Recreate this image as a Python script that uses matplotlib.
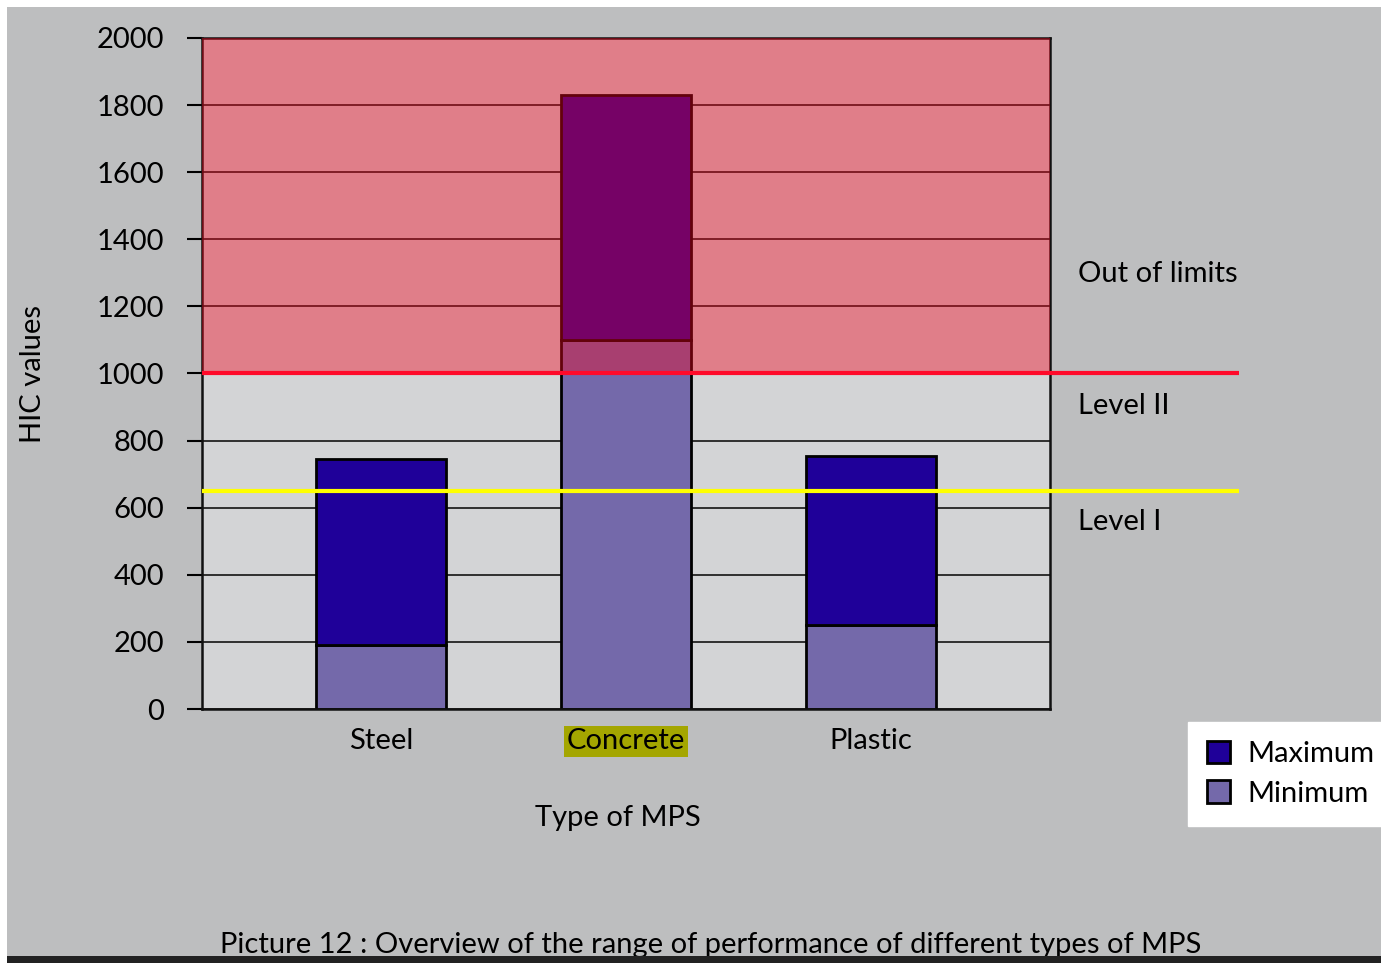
import matplotlib
matplotlib.use("Agg")
import matplotlib.pyplot as plt
from matplotlib.patches import Rectangle
import numpy as np

plt.rcParams['font.family'] = ['Lato', 'DejaVu Sans']

categories = ["Steel", "Concrete", "Plastic"]
minimum = [190, 1100, 250]
maximum = [745, 1830, 755]
level_ii_limit = 1000
level_i_limit = 650
yticks = [0, 200, 400, 600, 800, 1000, 1200, 1400, 1600, 1800, 2000]
zone_labels = ["Out of limits", "Level II", "Level I"]
zone_label_y = [1297, 903, 557]

W, H = 1381, 963
fig = plt.figure(figsize=(W / 100, H / 100), dpi=100)
fig.patch.set_facecolor("#bdbebf")

def px(x0, y0, x1, y1):
    return [x0 / W, 1 - y1 / H, (x1 - x0) / W, (y1 - y0) / H]

ax = fig.add_axes(px(202, 38, 1050, 709))
ax.set_facecolor("#d3d4d6")
x = np.arange(len(categories))
ax.set_xlim(-0.73, 2.73)
ax.set_ylim(0, 2000)

FS = 21
ax.set_yticks(yticks)
ax.set_yticklabels([str(v) for v in yticks], fontsize=FS)
ax.tick_params(axis="y", length=11, width=1.5, pad=16, direction="out")
ax.set_xticks(x)
ax.set_xticklabels(categories, fontsize=FS)
ax.tick_params(axis="x", length=0, pad=14)
for lab in ax.get_xticklabels():
    if lab.get_text() == "Concrete":
        lab.set_bbox(dict(facecolor="#a4a600", edgecolor="none", pad=2))

ax.grid(axis="y", color="#222222", linewidth=1.3, zorder=0)
ax.set_axisbelow(True)
for s in ax.spines.values():
    s.set_linewidth(1.8)
    s.set_color("#111111")

bw = 0.53
ax.bar(x, minimum, width=bw, color="#7469aa", edgecolor="black", linewidth=2, zorder=2, label="Minimum")
ax.bar(x, np.array(maximum) - np.array(minimum), bottom=minimum, width=bw, color="#1f0099",
       edgecolor="black", linewidth=2, zorder=2, label="Maximum")

ax.axhspan(level_ii_limit, 2000, color=(243 / 255, 5 / 255, 29 / 255), alpha=0.41, zorder=3, linewidth=0)

ax.plot([-0.73, 3.5], [level_ii_limit] * 2, color="#ff0a2a", linewidth=3, zorder=5, clip_on=False,
        solid_capstyle="butt")
ax.plot([-0.73, 3.5], [level_i_limit] * 2, color="#ffff00", linewidth=3, zorder=5, clip_on=False,
        solid_capstyle="butt")

for t, yv in zip(zone_labels, zone_label_y):
    ax.text(2.845, yv, t, fontsize=FS, ha="left", va="center", clip_on=False)

ax.set_ylabel("HIC values", fontsize=FS)
ax.yaxis.set_label_coords(-0.184, 0.5)
fig.text(618 / W, 1 - 818 / H, "Type of MPS", fontsize=FS, ha="center", va="center")

# legend
h_max = Rectangle((0, 0), 1, 1, facecolor="#1f0099", edgecolor="black", linewidth=2)
h_min = Rectangle((0, 0), 1, 1, facecolor="#7469aa", edgecolor="black", linewidth=2)
leg = fig.legend([h_max, h_min], ["Maximum", "Minimum"], loc="upper left",
                 bbox_to_anchor=(1188 / W, 1 - 722 / H), fontsize=FS, frameon=True,
                 fancybox=False, framealpha=1, edgecolor="white", handlelength=0.8,
                 handleheight=0.8, handletextpad=0.6, labelspacing=0.45, borderpad=0.65,
                 borderaxespad=0)
leg.get_frame().set_facecolor("white")

fig.text(711 / W, 1 - 932 / H, "Picture 12 : Overview of the range of performance of different types of MPS",
         fontsize=FS, ha="center", va="top")

# page edges
fig.patches.append(Rectangle((0, 0), 1, 7 / H, transform=fig.transFigure, facecolor="#222222",
                             edgecolor="none", zorder=10))
fig.patches.append(Rectangle((0, 1 - 7 / H), 1, 7 / H, transform=fig.transFigure, facecolor="white",
                             edgecolor="none", zorder=10))
fig.patches.append(Rectangle((0, 0), 7 / W, 1, transform=fig.transFigure, facecolor="white",
                             edgecolor="none", zorder=10))

fig.savefig("out.png", dpi=100, facecolor=fig.get_facecolor())
